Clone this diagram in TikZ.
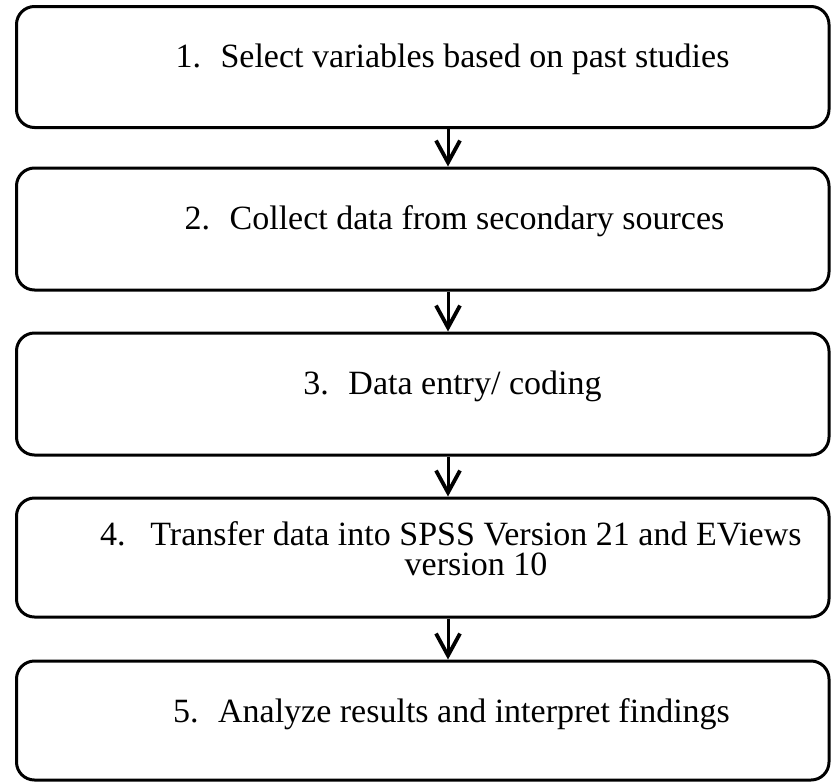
\documentclass[tikz,border=0pt]{standalone}
\usepackage{fontspec}
\setmainfont{Liberation Serif}
\usetikzlibrary{arrows.meta}
\begin{document}
\begin{tikzpicture}[x=1pt,y=-1pt,
  stepbox/.style={draw, line width=3pt, rounded corners=18pt, minimum width=812.5pt, inner sep=0pt},
  txt/.style={anchor=base, inner sep=0pt, font=\fontsize{34}{30}\selectfont},
  num/.style={anchor=base west, inner sep=0pt, font=\fontsize{34}{30}\selectfont},
  flow/.style={line width=3pt, -{Straight Barb[length=22pt, width=24pt, line width=3.8pt]}}]
\useasboundingbox (0,0) rectangle (832,782);
% boxes
\node[stepbox, minimum height=121pt] (b1) at (422.75,67) {};
\node[stepbox, minimum height=122pt] (b2) at (422.75,229) {};
\node[stepbox, minimum height=122pt] (b3) at (422.75,394) {};
\node[stepbox, minimum height=119pt] (b4) at (422.75,557.5) {};
\node[stepbox, minimum height=119pt] (b5) at (422.75,720.5) {};
% texts
\node[txt] (t1) at (475,67) {Select variables based on past studies};
\node[num] (n1) at ([xshift=-45pt]t1.base west) {1.};
\node[txt] (t2) at (477,229) {Collect data from secondary sources};
\node[num] (n2) at ([xshift=-45pt]t2.base west) {2.};
\node[txt] (t3) at (475,394) {Data entry/ coding};
\node[num] (n3) at ([xshift=-45pt]t3.base west) {3.};
\node[txt, align=center] (t4) at (476,575) {Transfer data into SPSS Version 21 and EViews\\version 10};
\node[num] (n4) at (100,545) {4.};
\node[txt] (t5) at (474,722) {Analyze results and interpret findings};
\node[num] (n5) at ([xshift=-45pt]t5.base west) {5.};
% arrows
\draw[flow] ([xshift=25.25pt]b1.south) -- ([xshift=25.25pt]b2.north);
\draw[flow] ([xshift=25.25pt]b2.south) -- ([xshift=25.25pt]b3.north);
\draw[flow] ([xshift=25.25pt]b3.south) -- ([xshift=25.25pt]b4.north);
\draw[flow] ([xshift=25.25pt]b4.south) -- ([xshift=25.25pt]b5.north);
\end{tikzpicture}
\end{document}
